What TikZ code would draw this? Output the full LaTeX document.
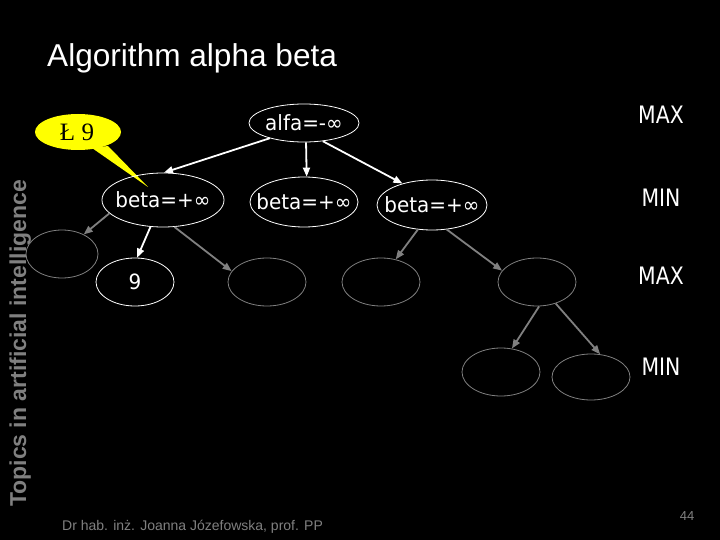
\documentclass[tikz,border=0pt]{standalone}
\usepackage{fontspec}
\setmainfont{Liberation Sans}
\newfontfamily\tah[FakeStretch=0.95]{DejaVu Sans}
\newfontfamily\tahn[FakeStretch=0.85]{DejaVu Sans}
\newfontfamily\ser{Liberation Serif}
\usetikzlibrary{arrows.meta,shapes.geometric}
\definecolor{gr}{RGB}{128,128,128}
\definecolor{callout}{RGB}{255,255,0}
\begin{document}
\begin{tikzpicture}[x=1pt,y=-1pt,
  wnode/.style={ellipse,draw=white,line width=0.8pt,inner sep=0pt},
  gnode/.style={ellipse,draw=gr,line width=0.8pt,inner sep=0pt},
  lbl/.style={text=white,font=\tah\fontsize{21}{24}\selectfont,inner sep=0pt},
  lvl/.style={text=white,font=\tahn\fontsize{24}{28}\selectfont,inner sep=0pt},
  warr/.style={draw=white,line width=1.8pt,-{Triangle[length=9pt,width=7pt]}},
  garr/.style={draw=gr,line width=1.8pt,-{Triangle[length=9pt,width=7pt]}}]
\fill[black] (0,0) rectangle (720,540);
\useasboundingbox (0,0) rectangle (720,540);
% title
\node[anchor=base west,text=white,font=\fontsize{31.6}{36}\selectfont,inner sep=0pt] (title) at (47,67) {Algorithm alpha beta};
% vertical side text
\node[anchor=base west,rotate=90,text=gr,font=\bfseries\fontsize{23}{26}\selectfont,inner sep=0pt] (side) at (26,507) {Topics in artificial intelligence};
% footer
\node[anchor=base west,text=gr,font=\fontsize{14}{16}\selectfont,inner sep=0pt] (foot) at (62,530) {Dr hab. inż. Joanna Józefowska, prof. PP};
\node[text=gr,font=\fontsize{13}{15}\selectfont,inner sep=0pt] (page) at (687,516) {44};
% callout
\fill[callout] (78,132) ellipse [x radius=43pt, y radius=18pt];
\fill[callout] (92,148) -- (148,187) -- (108,146) -- cycle;
\node[text=black,font=\ser\fontsize{25}{28}\selectfont,inner sep=0pt] (ct) at (77,132) {Ł 9};
% nodes
\node[wnode,minimum width=110pt,minimum height=38pt,label={[lbl]center:alfa=-∞}] (root) at (304,123) {};
\node[wnode,minimum width=122pt,minimum height=54pt,label={[lbl]center:beta=+∞}] (b1) at (163,200) {};
\node[wnode,minimum width=108pt,minimum height=50pt,label={[lbl]center:beta=+∞}] (b2) at (304,202) {};
\node[wnode,minimum width=110pt,minimum height=50pt,label={[lbl]center:beta=+∞}] (b3) at (432,205) {};
\node[gnode,minimum width=72pt,minimum height=48pt] (l1) at (62,254) {};
\node[wnode,minimum width=78pt,minimum height=48pt,label={[lbl]center:9}] (n9) at (135,282) {};
\node[gnode,minimum width=78pt,minimum height=48pt] (g1) at (267,282) {};
\node[gnode,minimum width=78pt,minimum height=48pt] (g2) at (381,282) {};
\node[gnode,minimum width=78pt,minimum height=48pt] (g3) at (537,282) {};
\node[gnode,minimum width=78pt,minimum height=48pt] (h1) at (501,372) {};
\node[gnode,minimum width=78pt,minimum height=46pt] (h2) at (591,377) {};
% level labels
\node[lvl] (max1) at (661,115) {MAX};
\node[lvl] (min1) at (661,198) {MIN};
\node[lvl] (max2) at (661,276) {MAX};
\node[lvl] (min2) at (661,367) {MIN};
% connectors
\draw[warr] (root.204) -- (b1.88);
\draw[warr] (root.276) -- (b2.84);
\draw[warr] (root.316) -- (b3.144);
\draw[garr] (b1.194) -- (l1.42);
\draw[warr] (b1.245) -- (n9.85);
\draw[garr] (b1.293) -- (g1.163);
\draw[garr] (b3.240) -- (g2.57);
\draw[garr] (b3.301) -- (g3.162);
\draw[garr] (g3.275) -- (h1.65);
\draw[garr] (g3.311) -- (h2.68);
\end{tikzpicture}
\end{document}
